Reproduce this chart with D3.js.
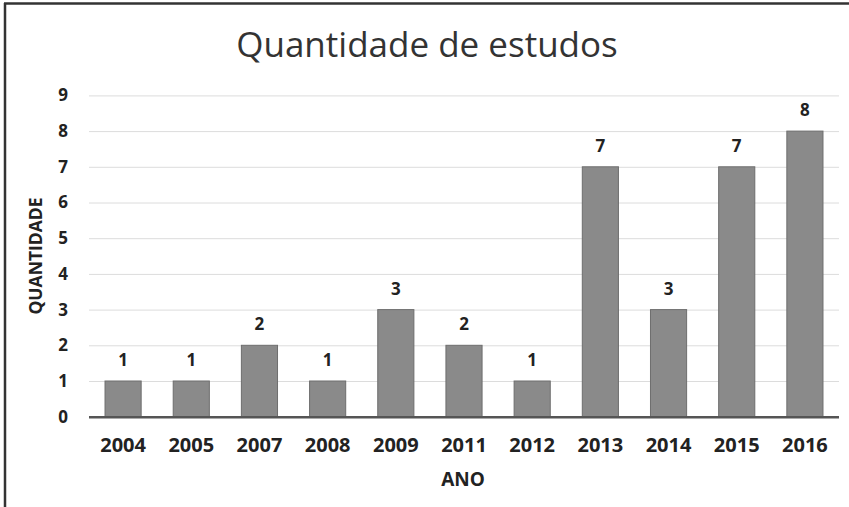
<html>
<head>
  <meta charset="utf-8">
  <title>Quantidade de estudos</title>
  <script src="https://d3js.org/d3.v7.min.js"></script>
  <style>
    body { margin: 0; background: #fff; }
    text { font-family: "Open Sans", "Noto Sans", sans-serif; fill: #222; }
    .gridlines line { stroke: #dcdcdc; stroke-width: 1px; }
    .gridlines .domain { stroke: none; }
    .y.axis .domain, .y.axis line { stroke: none; }
    .x.axis .domain, .x.axis line { stroke: none; }
    .tick text { font-weight: 700; }
    .bar { fill: #8a8a8a; stroke: #6e6e6e; stroke-width: 1px; }
    .value { font-weight: 700; font-size: 17px; text-anchor: middle; }
  </style>
</head>
<body>
  <svg id="chart" width="849" height="507"></svg>

  <script>
    // data
    const years = ["2004", "2005", "2007", "2008", "2009", "2011", "2012", "2013", "2014", "2015", "2016"];
    const counts = [1, 1, 2, 1, 3, 2, 1, 7, 3, 7, 8];
    const yTicks = [0, 1, 2, 3, 4, 5, 6, 7, 8, 9];

    const svg = d3.select("svg#chart");
    const width = +svg.attr("width");
    const height = +svg.attr("height");

    // frame (only top and left edges are visible in the picture)
    svg.append("line").attr("x1", 4).attr("x2", width).attr("y1", 3.5).attr("y2", 3.5)
       .attr("stroke", "#333").attr("stroke-width", 2.5);
    svg.append("line").attr("x1", 5).attr("x2", 5).attr("y1", 3).attr("y2", height)
       .attr("stroke", "#333").attr("stroke-width", 2.5);

    const xScale = d3.scaleBand().domain(years).range([89, 839])
                     .paddingInner(0.47).paddingOuter(0.235);
    const yScale = d3.scaleLinear().domain([0, 9]).range([416.7, 95.4]);

    // title
    svg.append("text").attr("x", 427).attr("y", 57)
       .attr("text-anchor", "middle")
       .style("font-size", "35px").style("fill", "#333")
       .text("Quantidade de estudos");

    // gridlines
    let grid = d3.axisLeft(yScale).tickValues(yTicks.slice(1)).tickFormat("")
                 .tickSize(-(839 - 89));
    svg.append("g").attr("class", "gridlines")
       .attr("transform", "translate(89,0)")
       .call(grid);

    // y labels
    let leftAxis = d3.axisLeft(yScale).tickValues(yTicks).tickSize(0).tickPadding(0);
    svg.append("g").attr("class", "y axis")
       .attr("transform", "translate(68,0)")
       .call(leftAxis)
       .selectAll("text").style("font-size", "17px");

    // bars
    svg.selectAll("rect.bar")
       .data(counts)
       .join("rect")
       .attr("class", "bar")
       .attr("x", (d, i) => xScale(years[i]))
       .attr("width", xScale.bandwidth())
       .attr("y", d => yScale(d))
       .attr("height", d => yScale(0) - yScale(d));

    // baseline
    svg.append("line").attr("x1", 89).attr("x2", 839)
       .attr("y1", yScale(0) + 0.5).attr("y2", yScale(0) + 0.5)
       .attr("stroke", "#555").attr("stroke-width", 2.5);

    // value labels
    svg.selectAll("text.value")
       .data(counts)
       .join("text")
       .attr("class", "value")
       .attr("x", (d, i) => xScale(years[i]) + xScale.bandwidth() / 2)
       .attr("y", d => yScale(d) - 15)
       .text(d => d);

    // x labels
    let bottomAxis = d3.axisBottom(xScale).tickSize(0).tickPadding(0);
    svg.append("g").attr("class", "x axis")
       .attr("transform", "translate(0,438)")
       .call(bottomAxis)
       .selectAll("text").style("font-size", "20px");

    // axis titles
    svg.append("text").attr("x", 463).attr("y", 486)
       .attr("text-anchor", "middle")
       .style("font-size", "19px").style("font-weight", 700)
       .text("ANO");

    svg.append("text")
       .attr("transform", "translate(41.5,256) rotate(-90)")
       .attr("text-anchor", "middle")
       .style("font-size", "17.5px").style("font-weight", 700)
       .text("QUANTIDADE");
  </script>
</body>
</html>
